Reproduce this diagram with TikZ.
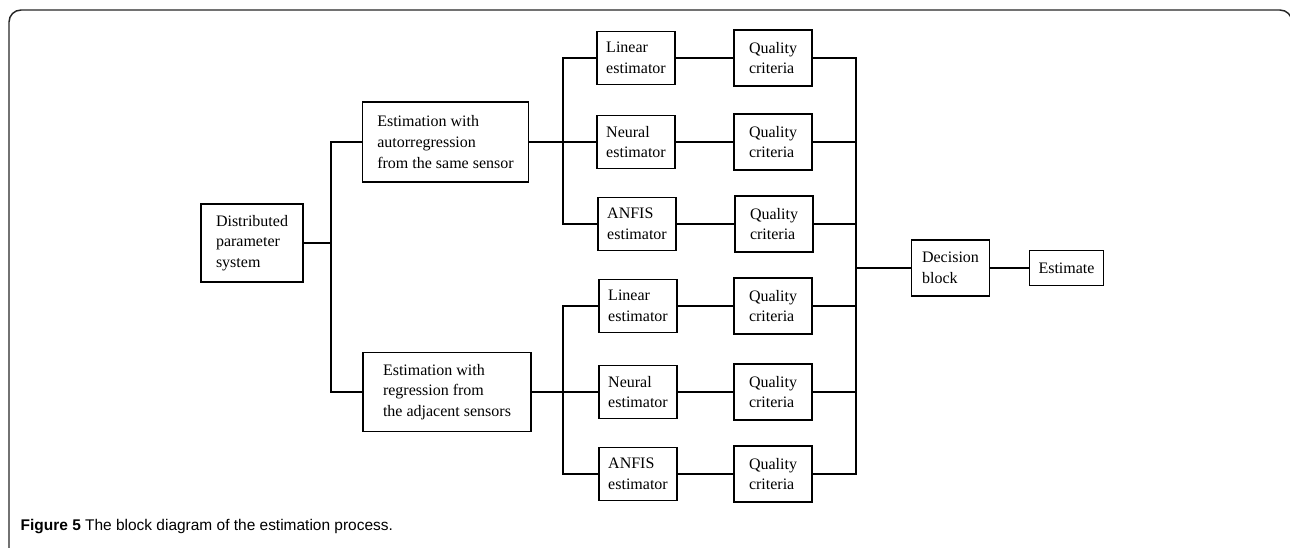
\documentclass[tikz,border=0pt]{standalone}
\usepackage{fontspec}
\setmainfont{Liberation Serif}
\newfontfamily\capfont{Liberation Sans}
\usepackage{tikz}
\usetikzlibrary{positioning}

\tikzset{
	blk/.style={draw, line width=0.8pt, align=left, inner sep=0pt,
		font=\fontsize{12}{15.5}\selectfont},
	estim/.style={blk, minimum width=58.5pt, minimum height=40pt},
	crit/.style={blk, minimum width=58.5pt, minimum height=42pt},
	wire/.style={line width=0.8pt}
}

\begin{document}
\begin{tikzpicture}[x=0.75pt,y=-0.75pt]
	\useasboundingbox (0,0) rectangle (1290,547);
	\begin{scope}
	\clip (0,0) rectangle (1290,547);
	\draw[line width=1.1pt, black!85, rounded corners=9] (9,570) -- (9,10) -- (1292,10) -- (1292,570);
	\end{scope}
	% nodes
	\node[blk, minimum width=76.5pt, minimum height=58.5pt] (dps) at (252,243) {Distributed\\parameter\\system};
	\node[blk, minimum width=125pt, minimum height=60pt] (estA) at (445.5,142) {Estimation with\\autorregression\\from the same sensor};
	\node[blk, minimum width=126pt, minimum height=59pt] (estB) at (447,392) {Estimation with\\regression from\\the adjacent sensors};
	%
	\node[estim] (linA) at (636,58) {Linear\\estimator};
	\node[estim] (neuA) at (636,142) {Neural\\estimator};
	\node[estim] (anfA) at (637,224) {ANFIS\\estimator};
	\node[estim] (linB) at (638,306) {Linear\\estimator};
	\node[estim] (neuB) at (638,392) {Neural\\estimator};
	\node[estim] (anfB) at (638,474) {ANFIS\\estimator};
	%
	\node[crit] (qcA1) at (773,58) {Quality\\criteria};
	\node[crit] (qcA2) at (773,142) {Quality\\criteria};
	\node[crit] (qcA3) at (774,224) {Quality\\criteria};
	\node[crit] (qcB1) at (773,306) {Quality\\criteria};
	\node[crit] (qcB2) at (773,392) {Quality\\criteria};
	\node[crit] (qcB3) at (773,474) {Quality\\criteria};
	%
	\node[blk, minimum width=59pt, minimum height=42pt] (dec) at (950.5,268) {Decision\\block};
	\node[blk, minimum width=55pt, minimum height=26pt] (est) at (1066.5,268) {Estimate};
	%
	\node[anchor=west, font=\capfont\fontsize{11.6}{13}\selectfont] (cap) at (16,527)
		{\textbf{Figure 5} The block diagram of the estimation process.};
	% bus points
	\coordinate (busL) at (331,243);
	\coordinate (busA) at (563,142);
	\coordinate (busB) at (563,392);
	\coordinate (busR) at (856,268);
	%
	\path[wire]
	% first split
	(dps) edge (busL)
	% estimators to criteria
	(linA) edge (qcA1)
	(neuA) edge (qcA2)
	(anfA) edge (qcA3)
	(linB) edge (qcB1)
	(neuB) edge (qcB2)
	(anfB) edge (qcB3)
	% decision
	(busR) edge (dec)
	(dec) edge (est);
	%
	\draw[wire] (estA.west) -| (busL) |- (estB.west);
	\draw[wire] (estA.east) -- (neuA.west);
	\draw[wire] (estB.east) -- (neuB.west);
	\draw[wire] (linA.west) -| (busA) |- (anfA.west);
	\draw[wire] (linB.west) -| (busB) |- (anfB.west);
	\draw[wire] (qcA1.east) -| (busR) |- (qcB3.east);
	\foreach \q in {qcA2,qcA3,qcB1,qcB2}
		\draw[wire] (\q.east) -- (\q.east -| busR);
\end{tikzpicture}
\end{document}
